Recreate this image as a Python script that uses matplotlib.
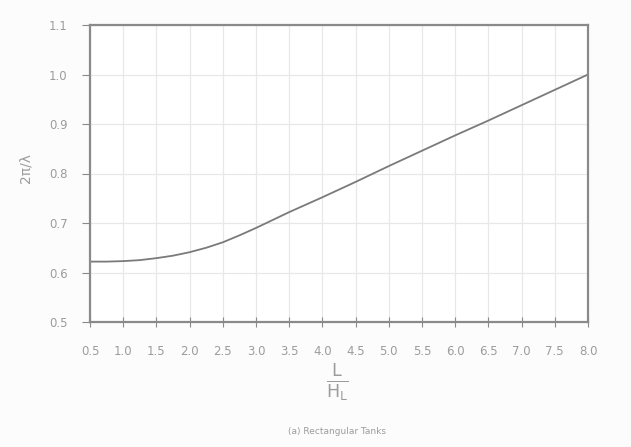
import numpy as np
import matplotlib.pyplot as plt

# values
ratio_L_HL = [0.5, 0.75, 1.0, 1.25, 1.5, 1.75, 2.0, 2.25, 2.5, 2.75, 3.0, 3.25, 3.5,
              4.0, 4.5, 5.0, 5.5, 6.0, 6.5, 7.0, 7.5, 8.0]
two_pi_over_lambda = [0.622, 0.622, 0.623, 0.625, 0.629, 0.634, 0.641, 0.650, 0.661, 0.675,
                      0.690, 0.706, 0.722, 0.752, 0.783, 0.815, 0.846, 0.877, 0.907, 0.938,
                      0.969, 1.000]

x_ticks = np.arange(0.5, 8.01, 0.5)
y_ticks = np.arange(0.5, 1.101, 0.1)

text_col = '#9c9c9c'
frame_col = '#8a8a8a'

fig = plt.figure(figsize=(6.31, 4.47), dpi=100)
fig.patch.set_facecolor('#fcfcfc')
ax = fig.add_axes([90 / 631, 1 - 322 / 447, (588 - 90) / 631, (322 - 25) / 447])
ax.set_facecolor('white')

ax.plot(ratio_L_HL, two_pi_over_lambda, color='#7a7a7a', lw=1.3)

ax.set_xlim(0.5, 8.0)
ax.set_ylim(0.5, 1.1)
ax.set_xticks(x_ticks)
ax.set_xticklabels([f'{v:.1f}' for v in x_ticks])
ax.set_yticks(y_ticks)
ax.set_yticklabels([f'{v:.1f}' for v in y_ticks])
ax.grid(True, color='#e8e8e8', lw=0.9)

for s in ax.spines.values():
    s.set_color(frame_col)
    s.set_linewidth(1.6)
ax.tick_params(colors=frame_col, labelcolor=text_col, labelsize=8.5, width=0.8)
ax.tick_params(axis='x', direction='inout', length=7, pad=13)
ax.tick_params(axis='y', direction='out', length=6, pad=10)

ax.set_ylabel('2π/λ', color=text_col, fontsize=10)
ax.yaxis.set_label_coords(-0.115, 0.52)

# fraction label L / H_L under the x axis
fig.text(337 / 631, 1 - 383 / 447, r'$\frac{\mathregular{L}}{\mathregular{H_L}}$', color=text_col,
         fontsize=18, ha='center', va='center')

fig.text(337 / 631, 1 - 432 / 447, '(a) Rectangular Tanks', color=text_col, fontsize=6.5,
         ha='center', va='center')

fig.savefig('out.png', dpi=100, facecolor=fig.get_facecolor())
